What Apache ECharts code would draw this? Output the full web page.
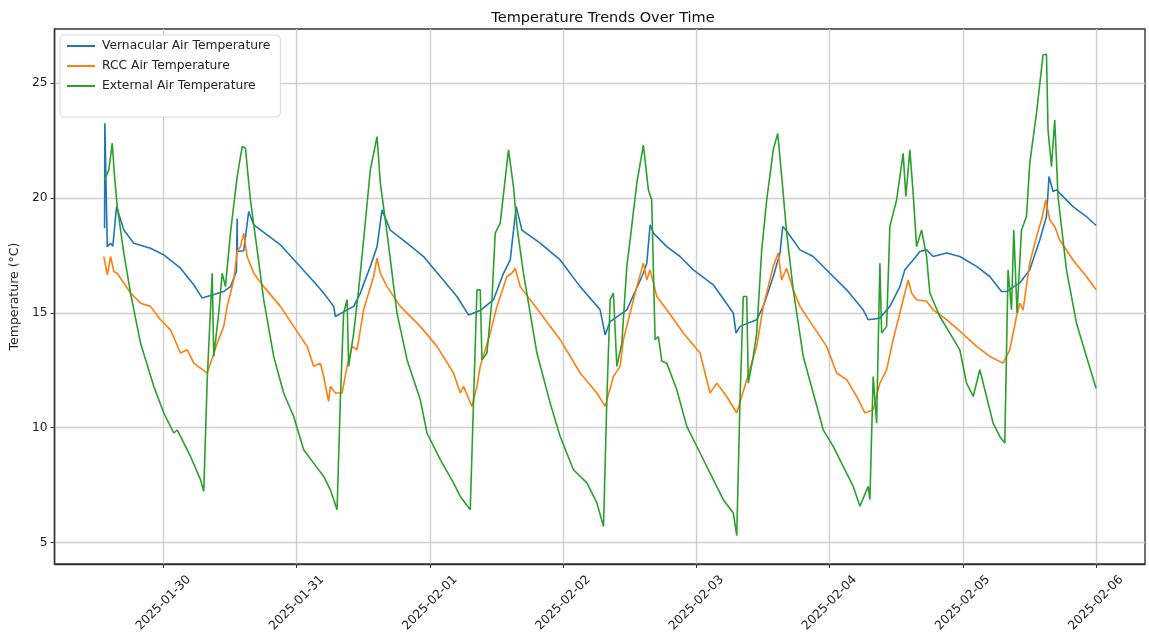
<!DOCTYPE html>
<html>
<head>
<meta charset="utf-8">
<script src="https://cdn.jsdelivr.net/npm/echarts@6/dist/echarts.min.js"></script>
<style>
html,body{margin:0;padding:0;background:#fff;}
#chart{width:1149px;height:637px;}
</style>
</head>
<body>
<div id="chart"></div>
<script>
// ---- data (time = hours since 2025-01-29 00:00, value = °C) ----
const seriesNames = ['Vernacular Air Temperature', 'RCC Air Temperature', 'External Air Temperature'];
const xTickLabels = ['2025-01-30','2025-01-31','2025-02-01','2025-02-02','2025-02-03','2025-02-04','2025-02-05','2025-02-06'];
const xTickHours = [24, 48, 72, 96, 120, 144, 168, 192];
const yTickValues = [5, 10, 15, 20, 25];

const vernacularAir = [
  [13.38,18.68],[13.43,23.25],[13.87,17.88],[14.46,18.03],[14.87,17.9],[15.54,19.62],[16.85,18.6],
  [18.65,18.03],[21.66,17.81],[24.05,17.52],[27.06,16.94],[29.45,16.22],[30.97,15.64],[31.87,15.71],
  [34.85,15.93],[36.06,16.14],[37.14,16.8],[37.27,19.1],[37.32,17.67],[38.45,17.7],[39.35,19.41],
  [40.25,18.83],[42.67,18.39],[45.06,17.96],[48.07,17.16],[51.05,16.36],[52.85,15.86],[54.65,15.28],
  [54.96,14.84],[57.07,15.13],[58.26,15.28],[59.46,15.86],[61.26,17.02],[62.47,17.88],[63.37,19.48],
  [64.86,18.6],[67.87,18.03],[70.85,17.45],[73.86,16.58],[76.87,15.71],[78.95,14.91],[81.06,15.1],
  [83.45,15.57],[85.25,16.72],[86.46,17.3],[87.54,19.62],[88.57,18.6],[91.86,18.03],[95.46,17.3],
  [99.06,16.14],[102.66,15.13],[103.56,14.04],[104.46,14.62],[107.47,15.13],[110.45,16.72],[111.07,17.16],
  [111.66,18.83],[112.25,18.47],[114.67,17.88],[117.06,17.45],[119.45,16.87],[123.05,16.22],[126.65,14.99],
  [127.14,14.12],[127.86,14.41],[130.87,14.7],[132.05,15.28],[133.85,16.58],[135.06,17.6],[135.55,18.76],
  [136.27,18.56],[138.66,17.74],[141.05,17.45],[144.06,16.72],[147.07,16.0],[150.05,15.13],[150.95,14.7],
  [153.06,14.77],[154.86,15.28],[156.66,16.14],[157.56,16.87],[159.05,17.3],[160.26,17.67],[161.47,17.74],
  [162.65,17.45],[165.07,17.6],[167.46,17.45],[170.47,17.02],[172.86,16.58],[174.97,15.93],[175.87,15.93],
  [178.26,16.3],[180.06,16.87],[181.86,18.17],[183.07,19.19],[183.53,20.93],[184.25,20.28],[184.87,20.35],
  [187.85,19.62],[190.27,19.19],[192.0,18.8]
];

const rccAir = [
  [13.25,17.45],[13.87,16.65],[14.46,17.45],[15.05,16.8],[15.65,16.72],[18.06,15.86],[19.86,15.42],
  [21.66,15.28],[23.46,14.7],[25.26,14.26],[27.06,13.25],[28.27,13.39],[29.45,12.81],[31.87,12.38],
  [33.67,13.68],[34.85,14.41],[35.47,15.28],[36.65,16.43],[37.27,17.67],[37.86,17.88],[38.45,18.47],
  [39.07,17.45],[40.25,16.72],[42.05,16.14],[45.06,15.28],[47.45,14.41],[49.87,13.54],[51.05,12.67],
  [52.26,12.81],[52.85,12.23],[53.75,11.14],[54.06,11.8],[54.96,11.51],[56.17,11.51],[57.07,12.67],
  [57.97,13.54],[58.87,13.39],[60.05,15.13],[61.85,16.58],[62.47,17.38],[63.06,16.72],[64.27,16.14],
  [66.66,15.28],[70.26,14.41],[73.27,13.54],[76.25,12.38],[77.46,11.51],[78.05,11.8],[79.55,10.93],
  [80.47,11.8],[81.06,12.67],[82.86,14.12],[84.07,15.28],[85.87,16.58],[86.77,16.72],[87.36,16.94],
  [88.26,16.14],[91.86,14.99],[95.46,13.83],[99.06,12.38],[102.07,11.51],[103.56,10.93],[105.05,12.23],
  [106.26,12.67],[106.85,13.83],[108.06,14.99],[109.27,16.14],[110.45,17.16],[111.07,16.43],[111.66,16.87],
  [112.87,15.71],[114.67,15.13],[117.65,14.12],[120.66,13.25],[122.46,11.51],[123.67,11.94],[125.47,11.36],
  [127.27,10.64],[128.17,11.36],[129.07,12.09],[130.87,13.54],[132.05,15.28],[133.85,17.02],[134.75,17.6],
  [135.35,16.43],[136.25,16.94],[137.45,16.0],[138.66,15.28],[141.05,14.41],[143.46,13.54],[145.27,12.38],
  [147.07,12.09],[148.87,11.36],[150.36,10.64],[151.85,10.78],[153.06,11.94],[154.27,12.52],[155.45,13.83],
  [156.66,14.99],[157.56,15.86],[158.15,16.43],[158.77,15.86],[159.67,15.57],[161.47,15.5],[162.65,15.13],
  [165.07,14.7],[167.46,14.2],[170.47,13.54],[172.86,13.1],[175.25,12.81],[176.46,13.39],[177.67,14.84],
  [178.26,15.42],[178.85,15.13],[180.06,17.16],[181.27,18.31],[182.17,19.04],[182.94,19.91],[183.66,19.04],
  [184.56,18.76],[185.46,18.17],[187.85,17.3],[190.27,16.58],[192.0,16.0]
];

const externalAir = [
  [13.38,20.78],[14.15,21.22],[14.77,22.38],[15.18,20.93],[15.67,19.62],[15.95,19.7],[16.85,17.6],
  [18.06,15.86],[19.86,13.68],[22.25,11.8],[24.05,10.64],[25.85,9.77],[26.47,9.9],[27.06,9.62],
  [28.86,8.75],[30.66,7.74],[31.25,7.23],[31.87,12.09],[32.77,16.72],[33.05,13.1],[33.95,14.99],
  [34.57,16.72],[35.16,16.14],[36.06,18.47],[37.27,20.93],[38.17,22.23],[38.76,22.16],[39.66,19.91],
  [40.87,17.74],[42.05,15.57],[43.85,13.1],[45.65,11.51],[47.45,10.49],[49.25,9.04],[51.05,8.46],
  [52.85,7.88],[54.06,7.3],[55.27,6.43],[55.86,11.22],[56.45,14.99],[57.07,15.57],[57.35,12.67],
  [58.26,14.12],[59.15,16.0],[60.05,18.17],[61.26,21.22],[62.47,22.67],[63.06,20.65],[64.27,18.47],
  [66.07,14.99],[67.87,12.96],[70.26,11.22],[71.47,9.77],[73.86,8.61],[76.25,7.6],[77.46,7.01],
  [79.26,6.43],[79.86,11.22],[80.47,16.0],[81.06,16.0],[81.37,12.96],[82.27,13.25],[83.17,15.57],
  [83.76,18.47],[84.66,18.9],[86.15,22.09],[87.05,20.49],[87.67,18.76],[88.85,16.72],[91.27,13.25],
  [93.66,11.07],[95.46,9.62],[97.85,8.17],[100.27,7.6],[102.07,6.73],[103.27,5.7],[103.87,11.22],
  [104.46,15.57],[105.05,15.86],[105.67,12.67],[106.57,13.68],[107.47,17.02],[108.06,18.17],[109.27,20.65],
  [110.45,22.3],[111.35,20.35],[111.95,19.91],[112.56,13.83],[113.15,13.97],[113.77,12.9],[114.67,12.81],
  [116.47,11.65],[118.27,10.06],[120.66,8.9],[123.05,7.74],[124.85,6.87],[126.65,6.29],[127.27,5.3],
  [127.86,11.22],[128.45,15.71],[129.07,15.71],[129.35,11.94],[130.25,13.1],[130.87,14.12],[131.77,17.74],
  [132.67,19.91],[133.85,22.09],[134.65,22.81],[135.37,20.93],[136.27,18.47],[137.45,16.0],[139.25,13.1],
  [141.05,11.51],[142.85,9.91],[144.65,9.19],[146.45,8.32],[148.25,7.45],[149.46,6.58],[150.95,7.45],
  [151.26,6.87],[151.85,12.23],[152.47,10.2],[153.06,17.16],[153.37,14.12],[154.27,14.41],[154.86,18.76],
  [156.07,19.91],[157.25,21.94],[157.74,20.06],[158.46,22.09],[159.05,20.21],[159.67,17.88],[160.57,18.6],
  [161.47,17.45],[162.06,15.86],[163.86,14.84],[165.66,14.12],[167.46,13.39],[168.67,11.94],[169.87,11.36],
  [171.06,12.52],[172.27,11.36],[173.45,10.2],[174.66,9.62],[175.56,9.33],[176.15,16.87],[176.77,15.13],
  [177.18,18.6],[177.77,14.99],[178.57,18.6],[179.47,19.19],[180.06,21.51],[181.27,23.68],[182.45,26.22],
  [183.07,26.25],[183.35,22.96],[183.97,21.36],[184.56,23.39],[185.15,20.06],[186.67,16.87],[188.47,14.56],
  [190.27,13.1],[192.0,11.72]
];

// ---- build ----
const labelFor = v => {
  const i = xTickHours.indexOf(Math.round(v));
  return i >= 0 ? xTickLabels[i] : '';
};

const colors = ['#1f77b4', '#ff7f0e', '#2ca02c'];
const font = 'DejaVu Sans';

const chart = echarts.init(document.getElementById('chart'), null, {renderer: 'canvas'});
const gridStyle = {color: '#cfcfcf', width: 1.4};

const option = {
  animation: false,
  color: colors,
  title: {
    text: 'Temperature Trends Over Time',
    left: 598, textAlign: 'center', top: 6,
    textStyle: {fontFamily: font, fontSize: 14.5, fontWeight: 'normal', color: '#111'}
  },
  legend: {
    orient: 'vertical',
    left: 60, top: 35,
    padding: [4, 10, 24, 7],
    itemGap: 6,
    itemWidth: 28, itemHeight: 2,
    icon: 'rect',
    backgroundColor: '#fff',
    borderColor: '#d8d8d8', borderWidth: 1, borderRadius: 4,
    textStyle: {fontFamily: font, fontSize: 12.3, lineHeight: 14, color: '#222', padding: [0,0,0,2]},
    data: seriesNames
  },
  grid: {left: 54, right: 4, top: 29, bottom: 73, show: true, borderColor: '#333', borderWidth: 1.4, containLabel: false},
  xAxis: {
    type: 'value',
    min: 4.37,
    max: 200.82,
    axisLine: {show: true, lineStyle: {color: '#333', width: 1.4}},
    axisTick: {show: true, length: 4, customValues: xTickHours, lineStyle: {color: '#333'}},
    axisLabel: {
      customValues: xTickHours,
      formatter: v => labelFor(v),
      rotate: 45, align: 'center', verticalAlign: 'middle', margin: 39,
      fontFamily: font, fontSize: 12.3, color: '#222', hideOverlap: false
    },
    splitLine: {show: true, lineStyle: gridStyle}
  },
  yAxis: {
    type: 'value',
    min: 4.07, max: 27.35,
    name: 'Temperature (°C)',
    nameLocation: 'middle',
    nameGap: 28,
    nameTextStyle: {fontFamily: font, fontSize: 12.5, color: '#222'},
    axisLine: {show: true, lineStyle: {color: '#333', width: 1.4}},
    axisTick: {show: true, length: 4, customValues: yTickValues, lineStyle: {color: '#333'}},
    axisLabel: {customValues: yTickValues, margin: 7, fontFamily: font, fontSize: 12.3, color: '#222'},
    splitLine: {show: true, lineStyle: gridStyle}
  },
  series: [
    {name: seriesNames[0], type: 'line', data: vernacularAir, showSymbol: false, symbol: 'none', lineStyle: {width: 1.6}, z: 3},
    {name: seriesNames[1], type: 'line', data: rccAir, showSymbol: false, symbol: 'none', lineStyle: {width: 1.6}, z: 4},
    {name: seriesNames[2], type: 'line', data: externalAir, showSymbol: false, symbol: 'none', lineStyle: {width: 1.6}, z: 5}
  ]
};
chart.setOption(option);
</script>
</body>
</html>
